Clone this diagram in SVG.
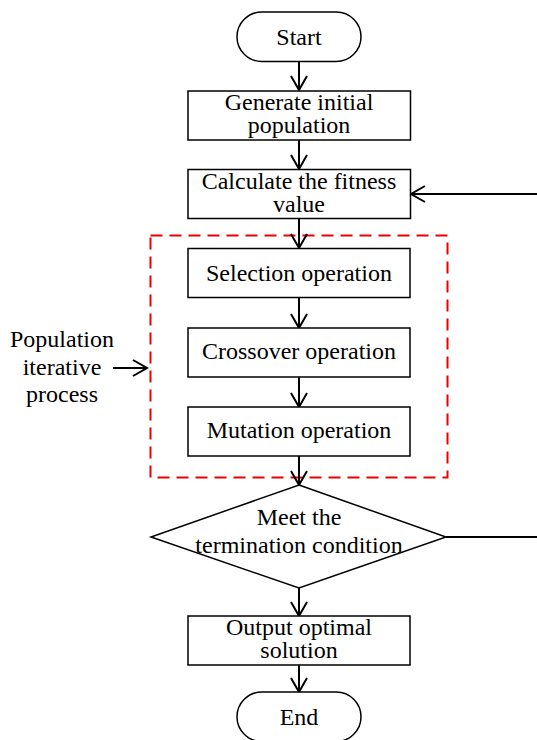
<svg xmlns="http://www.w3.org/2000/svg" width="537" height="740" viewBox="0 0 537 740">
<defs>
<marker id="arr" markerWidth="18" markerHeight="20" refX="15" refY="9" orient="auto" markerUnits="userSpaceOnUse">
<path d="M1,1 L15,9 L1,17" fill="none" stroke="#000" stroke-width="2"/>
</marker>
</defs>
<style>
.n{fill:#fff;stroke:#000;stroke-width:1.5}
.t{font-family:"Liberation Serif","Times New Roman",serif;font-size:24px;fill:#000;text-anchor:middle}
.c{fill:none;stroke:#000;stroke-width:2}
</style>
<rect width="537" height="740" fill="#fff"/>
<g id="group-box">
<rect x="150.5" y="235.5" width="297" height="242" fill="none" stroke="#e00" stroke-width="2" stroke-dasharray="12,7"/>
</g>
<g id="connectors">
<line class="c" x1="299" y1="62" x2="299" y2="90" marker-end="url(#arr)"/>
<line class="c" x1="299" y1="140" x2="299" y2="169" marker-end="url(#arr)"/>
<line class="c" x1="299" y1="219" x2="299" y2="248" marker-end="url(#arr)"/>
<line class="c" x1="299" y1="298" x2="299" y2="328" marker-end="url(#arr)"/>
<line class="c" x1="299" y1="377" x2="299" y2="407" marker-end="url(#arr)"/>
<line class="c" x1="299" y1="456" x2="299" y2="485" marker-end="url(#arr)"/>
<line class="c" x1="299" y1="588" x2="299" y2="616" marker-end="url(#arr)"/>
<line class="c" x1="299" y1="665" x2="299" y2="692" marker-end="url(#arr)"/>
<line class="c" x1="446" y1="537" x2="537" y2="537"/>
<line class="c" x1="537" y1="194" x2="411" y2="194" marker-end="url(#arr)"/>
<line class="c" x1="113" y1="368" x2="147" y2="368" marker-end="url(#arr)"/>
</g>
<g id="start">
<rect class="n" x="237" y="12" width="124" height="49.5" rx="24.75"/>
<text class="t" x="299" y="45">Start</text>
</g>
<g id="init">
<rect class="n" x="188" y="91" width="222.5" height="49"/>
<text class="t" x="299" y="110">Generate initial</text>
<text class="t" x="299" y="133">population</text>
</g>
<g id="fitness">
<rect class="n" x="188" y="169.5" width="222.5" height="49"/>
<text class="t" x="299" y="189">Calculate the fitness</text>
<text class="t" x="299" y="212">value</text>
</g>
<g id="selection">
<rect class="n" x="188" y="248.5" width="222" height="49"/>
<text class="t" x="299" y="281">Selection operation</text>
</g>
<g id="crossover">
<rect class="n" x="188" y="328" width="222" height="49"/>
<text class="t" x="299" y="359">Crossover operation</text>
</g>
<g id="mutation">
<rect class="n" x="188" y="407" width="222" height="49"/>
<text class="t" x="299" y="438">Mutation operation</text>
</g>
<g id="decision">
<polygon class="n" points="299,485 446,537 299,588 151,537"/>
<text class="t" x="299" y="525">Meet the</text>
<text class="t" x="299" y="553">termination condition</text>
</g>
<g id="output">
<rect class="n" x="188" y="616" width="222" height="49"/>
<text class="t" x="299" y="635">Output optimal</text>
<text class="t" x="299" y="658">solution</text>
</g>
<g id="end">
<rect class="n" x="237" y="692" width="124" height="49.5" rx="24.75"/>
<text class="t" x="299" y="725">End</text>
</g>
<g id="label">
<text class="t" x="62" y="347">Population</text>
<text class="t" x="62" y="375">iterative</text>
<text class="t" x="62" y="402">process</text>
</g>
</svg>
